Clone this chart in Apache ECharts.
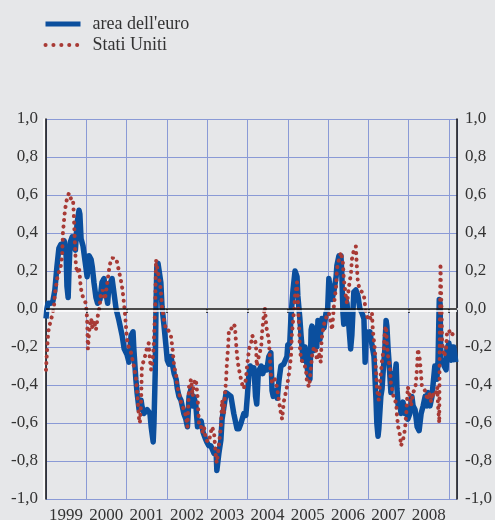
<!DOCTYPE html>
<html>
<head>
<meta charset="utf-8">
<script src="https://cdn.jsdelivr.net/npm/echarts@6/dist/echarts.min.js"></script>
<style>
  html, body { margin: 0; padding: 0; background: #e6e7e9; }
  #chart { width: 495px; height: 520px; }
</style>
</head>
<body>
<div id="chart"></div>
<script>
// [anno decimale, valore]
const areaEuro = [
  [1999.00,-0.05],[1999.02,0.00],[1999.05,0.03],[1999.12,0.03],[1999.17,0.04],[1999.22,0.10],[1999.27,0.22],[1999.32,0.32],[1999.37,0.34],[1999.41,0.30],[1999.45,0.36],[1999.50,0.28],[1999.52,0.12],[1999.55,0.06],[1999.57,0.20],[1999.60,0.35],[1999.65,0.38],[1999.69,0.37],[1999.73,0.31],[1999.77,0.45],[1999.82,0.52],[1999.84,0.50],[1999.87,0.37],[1999.92,0.33],[1999.97,0.25],
  [2000.02,0.17],[2000.07,0.28],[2000.12,0.26],[2000.15,0.22],[2000.19,0.14],[2000.24,0.06],[2000.28,0.03],[2000.34,0.05],[2000.39,0.14],[2000.44,0.16],[2000.49,0.08],[2000.53,0.03],[2000.56,0.12],[2000.64,0.16],[2000.69,0.08],[2000.74,0.00],[2000.81,-0.06],[2000.89,-0.14],[2000.94,-0.21],
  [2001.01,-0.24],[2001.06,-0.28],[2001.11,-0.14],[2001.16,-0.12],[2001.18,-0.21],[2001.23,-0.37],[2001.26,-0.44],[2001.31,-0.53],[2001.36,-0.48],[2001.38,-0.51],[2001.43,-0.55],[2001.51,-0.53],[2001.58,-0.55],[2001.61,-0.62],[2001.66,-0.70],[2001.68,-0.60],[2001.71,-0.34],[2001.73,0.01],[2001.75,0.22],[2001.78,0.24],[2001.80,0.23],[2001.85,0.14],[2001.88,0.01],[2001.93,-0.09],[2001.98,-0.20],
  [2002.01,-0.27],[2002.05,-0.29],[2002.10,-0.25],[2002.14,-0.26],[2002.18,-0.34],[2002.23,-0.37],[2002.26,-0.42],[2002.30,-0.46],[2002.35,-0.48],[2002.39,-0.49],[2002.42,-0.55],[2002.47,-0.58],[2002.51,-0.62],[2002.55,-0.46],[2002.60,-0.42],[2002.64,-0.51],[2002.67,-0.46],[2002.72,-0.51],[2002.76,-0.62],[2002.80,-0.60],[2002.85,-0.59],[2002.90,-0.65],[2002.95,-0.68],[2002.99,-0.70],
  [2003.04,-0.72],[2003.09,-0.72],[2003.17,-0.76],[2003.22,-0.74],[2003.24,-0.85],[2003.27,-0.84],[2003.29,-0.76],[2003.34,-0.69],[2003.37,-0.58],[2003.42,-0.51],[2003.47,-0.44],[2003.50,-0.43],[2003.59,-0.46],[2003.66,-0.55],[2003.74,-0.63],[2003.79,-0.63],[2003.84,-0.60],[2003.91,-0.55],[2003.96,-0.56],
  [2004.00,-0.45],[2004.04,-0.33],[2004.07,-0.30],[2004.12,-0.33],[2004.16,-0.31],[2004.20,-0.46],[2004.23,-0.50],[2004.27,-0.33],[2004.34,-0.30],[2004.38,-0.34],[2004.43,-0.31],[2004.48,-0.32],[2004.53,-0.25],[2004.58,-0.23],[2004.61,-0.43],[2004.64,-0.46],[2004.71,-0.43],[2004.74,-0.47],[2004.78,-0.38],[2004.83,-0.30],[2004.90,-0.29],[2004.98,-0.25],
  [2005.00,-0.19],[2005.05,-0.18],[2005.08,-0.04],[2005.13,0.10],[2005.18,0.20],[2005.20,0.21],[2005.23,0.17],[2005.25,0.07],[2005.30,-0.05],[2005.33,-0.14],[2005.38,-0.27],[2005.43,-0.20],[2005.45,-0.21],[2005.50,-0.34],[2005.55,-0.37],[2005.58,-0.11],[2005.60,-0.09],[2005.64,-0.22],[2005.68,-0.10],[2005.72,-0.20],[2005.75,-0.06],[2005.80,-0.16],[2005.85,-0.05],[2005.90,-0.10],[2005.95,-0.02],[2005.99,0.00],
  [2006.02,0.16],[2006.07,0.07],[2006.10,0.05],[2006.15,0.10],[2006.20,0.17],[2006.22,0.23],[2006.27,0.28],[2006.32,0.28],[2006.34,0.19],[2006.37,-0.02],[2006.39,-0.08],[2006.44,0.05],[2006.47,0.03],[2006.52,-0.10],[2006.56,-0.21],[2006.59,-0.14],[2006.64,0.09],[2006.69,0.10],[2006.74,0.07],[2006.79,0.00],[2006.84,-0.02],[2006.89,-0.05],[2006.92,-0.28],[2006.95,-0.12],[2006.99,-0.15],
  [2007.04,-0.12],[2007.09,-0.19],[2007.14,-0.25],[2007.19,-0.48],[2007.21,-0.60],[2007.24,-0.67],[2007.26,-0.63],[2007.31,-0.46],[2007.34,-0.42],[2007.36,-0.35],[2007.41,-0.21],[2007.44,-0.06],[2007.46,-0.09],[2007.49,-0.21],[2007.51,-0.27],[2007.56,-0.44],[2007.59,-0.34],[2007.64,-0.39],[2007.69,-0.29],[2007.71,-0.42],[2007.74,-0.51],[2007.79,-0.51],[2007.81,-0.55],[2007.86,-0.49],[2007.91,-0.55],[2007.96,-0.53],[2007.98,-0.58],
  [2008.03,-0.55],[2008.08,-0.46],[2008.11,-0.51],[2008.16,-0.53],[2008.21,-0.62],[2008.26,-0.64],[2008.31,-0.55],[2008.36,-0.51],[2008.41,-0.46],[2008.46,-0.51],[2008.48,-0.44],[2008.53,-0.51],[2008.58,-0.46],[2008.60,-0.41],[2008.65,-0.30],[2008.70,-0.37],[2008.73,-0.27],[2008.76,0.05],[2008.78,0.03],[2008.80,-0.28],[2008.85,-0.27],[2008.88,-0.30],[2008.93,-0.32],[2008.95,-0.21],
  [2009.00,-0.18],[2009.05,-0.27],[2009.07,-0.20],[2009.12,-0.20],[2009.17,-0.28]
];

const statiUniti = [
  [1999.00,-0.32],[1999.02,-0.24],[1999.05,-0.14],[1999.07,-0.10],[1999.12,-0.06],[1999.17,-0.02],[1999.20,0.02],[1999.22,0.08],[1999.27,0.15],[1999.30,0.19],[1999.35,0.20],[1999.40,0.28],[1999.42,0.40],[1999.47,0.52],[1999.52,0.58],[1999.57,0.61],[1999.62,0.58],[1999.67,0.58],[1999.69,0.50],[1999.72,0.33],[1999.74,0.24],[1999.77,0.19],[1999.82,0.22],[1999.86,0.12],[1999.89,0.08],[1999.94,0.05],[1999.99,0.03],
  [2000.02,-0.05],[2000.04,-0.21],[2000.07,-0.12],[2000.12,-0.05],[2000.15,-0.10],[2000.19,-0.06],[2000.24,-0.11],[2000.29,-0.03],[2000.33,0.01],[2000.36,0.08],[2000.41,0.10],[2000.46,0.05],[2000.51,0.12],[2000.56,0.20],[2000.61,0.26],[2000.66,0.27],[2000.71,0.25],[2000.76,0.25],[2000.81,0.20],[2000.86,0.15],[2000.90,0.10],[2000.94,0.02],[2000.97,-0.05],
  [2001.01,-0.16],[2001.06,-0.21],[2001.11,-0.23],[2001.18,-0.30],[2001.23,-0.36],[2001.27,-0.46],[2001.31,-0.58],[2001.33,-0.60],[2001.36,-0.49],[2001.38,-0.30],[2001.43,-0.27],[2001.48,-0.23],[2001.51,-0.20],[2001.55,-0.18],[2001.58,-0.27],[2001.61,-0.32],[2001.64,-0.28],[2001.67,-0.21],[2001.71,0.01],[2001.73,0.26],[2001.75,0.23],[2001.80,0.17],[2001.85,0.10],[2001.88,0.01],[2001.93,-0.06],[2001.98,-0.11],
  [2002.03,-0.11],[2002.10,-0.14],[2002.14,-0.21],[2002.18,-0.30],[2002.23,-0.35],[2002.26,-0.41],[2002.30,-0.44],[2002.35,-0.49],[2002.39,-0.48],[2002.42,-0.53],[2002.47,-0.56],[2002.51,-0.62],[2002.55,-0.41],[2002.60,-0.37],[2002.64,-0.46],[2002.67,-0.39],[2002.72,-0.37],[2002.76,-0.46],[2002.80,-0.62],[2002.85,-0.62],[2002.88,-0.65],[2002.92,-0.62],[2002.97,-0.69],
  [2003.04,-0.70],[2003.12,-0.62],[2003.17,-0.65],[2003.22,-0.79],[2003.24,-0.81],[2003.29,-0.72],[2003.34,-0.62],[2003.37,-0.48],[2003.42,-0.55],[2003.44,-0.45],[2003.47,-0.37],[2003.49,-0.28],[2003.52,-0.20],[2003.54,-0.11],[2003.59,-0.11],[2003.64,-0.08],[2003.69,-0.09],[2003.71,-0.16],[2003.74,-0.24],[2003.76,-0.28],[2003.81,-0.34],[2003.86,-0.39],[2003.91,-0.42],[2003.96,-0.37],[2003.99,-0.30],
  [2004.04,-0.21],[2004.09,-0.18],[2004.12,-0.14],[2004.16,-0.13],[2004.21,-0.18],[2004.23,-0.30],[2004.28,-0.25],[2004.34,-0.20],[2004.36,-0.13],[2004.41,-0.02],[2004.43,0.01],[2004.46,-0.07],[2004.48,-0.11],[2004.53,-0.16],[2004.58,-0.34],[2004.61,-0.39],[2004.68,-0.37],[2004.73,-0.41],[2004.78,-0.48],[2004.83,-0.55],[2004.86,-0.58],[2004.90,-0.49],[2004.98,-0.41],
  [2005.03,-0.34],[2005.08,-0.25],[2005.10,-0.14],[2005.15,-0.02],[2005.18,0.07],[2005.23,0.14],[2005.25,0.05],[2005.28,-0.09],[2005.30,-0.20],[2005.33,-0.27],[2005.35,-0.28],[2005.40,-0.28],[2005.45,-0.32],[2005.48,-0.39],[2005.53,-0.41],[2005.58,-0.30],[2005.60,-0.25],[2005.65,-0.20],[2005.70,-0.21],[2005.72,-0.27],[2005.77,-0.23],[2005.82,-0.28],[2005.84,-0.16],[2005.89,-0.09],[2005.94,-0.05],[2005.97,-0.04],
  [2006.02,-0.02],[2006.07,-0.07],[2006.10,-0.11],[2006.15,0.03],[2006.20,0.12],[2006.22,0.21],[2006.27,0.26],[2006.32,0.30],[2006.34,0.31],[2006.37,0.24],[2006.39,0.16],[2006.44,0.07],[2006.47,0.03],[2006.52,0.12],[2006.57,0.19],[2006.59,0.26],[2006.64,0.31],[2006.69,0.33],[2006.71,0.24],[2006.74,0.14],[2006.79,0.10],[2006.84,0.09],[2006.89,0.07],[2006.94,-0.02],[2006.97,-0.04],
  [2007.01,-0.06],[2007.06,-0.04],[2007.09,-0.02],[2007.11,-0.11],[2007.16,-0.21],[2007.19,-0.32],[2007.21,-0.41],[2007.24,-0.46],[2007.26,-0.48],[2007.29,-0.39],[2007.31,-0.34],[2007.34,-0.27],[2007.39,-0.20],[2007.41,-0.11],[2007.44,-0.09],[2007.46,-0.18],[2007.49,-0.25],[2007.54,-0.32],[2007.56,-0.39],[2007.59,-0.42],[2007.64,-0.48],[2007.69,-0.49],[2007.71,-0.56],[2007.74,-0.62],[2007.79,-0.67],[2007.81,-0.72],[2007.86,-0.69],[2007.91,-0.63],[2007.94,-0.55],[2007.96,-0.48],[2007.98,-0.41],
  [2008.03,-0.46],[2008.06,-0.51],[2008.11,-0.44],[2008.16,-0.42],[2008.18,-0.39],[2008.21,-0.30],[2008.23,-0.21],[2008.28,-0.27],[2008.31,-0.35],[2008.33,-0.41],[2008.38,-0.42],[2008.43,-0.44],[2008.46,-0.48],[2008.51,-0.44],[2008.56,-0.49],[2008.58,-0.44],[2008.63,-0.46],[2008.68,-0.44],[2008.71,-0.41],[2008.73,-0.51],[2008.76,-0.60],[2008.77,-0.21],[2008.79,0.24],[2008.80,0.14],[2008.82,-0.04],[2008.83,-0.18],[2008.88,-0.25],[2008.93,-0.21],[2008.95,-0.13],
  [2009.00,-0.11],[2009.05,-0.14],[2009.07,-0.13],[2009.10,-0.13]
];

const years = [1999, 2000, 2001, 2002, 2003, 2004, 2005, 2006, 2007, 2008];
const xRange = [1999, 2009.2];
const yRange = [-1, 1];

const font = 'Liberation Serif';
const gridBlue = '#8a9ad6';
const euroBlue = '#0b4f9e';
const usRed = '#a83a35';
const yLabel = v => v.toFixed(1).replace('-0.0', '0.0').replace('.', ',');

const chart = echarts.init(document.getElementById('chart'));

chart.setOption({
  animation: false,
  backgroundColor: '#e6e7e9',
  legend: {
    data: [
      { name: "area dell'euro", lineStyle: { width: 5, color: euroBlue } },
      { name: 'Stati Uniti', lineStyle: { width: 4, color: usRed, type: [0.1, 7.8], cap: 'round' } }
    ],
    orient: 'vertical',
    left: 38, top: 10,
    itemWidth: 35, itemHeight: 14, itemGap: 3,
    itemStyle: { opacity: 0 },
    textStyle: { fontFamily: font, fontSize: 18, color: '#333', padding: [0, 0, 0, 7] }
  },
  grid: { left: 46, right: 38, top: 119, bottom: 21, outerBoundsMode: 'none' },
  xAxis: {
    type: 'value', min: xRange[0], max: xRange[1], interval: 1,
    axisLine: { show: true, lineStyle: { color: '#fff', width: 2 } },
    axisTick: { show: true, length: 4, lineStyle: { color: '#111', width: 1.5 } },
    splitLine: { show: true, lineStyle: { color: gridBlue, width: 1 } },
    axisLabel: {
      fontFamily: font, fontSize: 17, color: '#333', margin: 8,
      padding: [0, 0, 0, 40], showMaxLabel: false,
      formatter: v => years.includes(v) ? String(v) : ''
    }
  },
  yAxis: [{
    type: 'value', position: 'left', min: yRange[0], max: yRange[1], interval: 0.2,
    axisLine: { show: true, lineStyle: { color: '#111', width: 1.5, shadowColor: '#fff', shadowOffsetX: -2 } },
    axisTick: { show: false },
    splitLine: { show: true, lineStyle: { color: gridBlue, width: 1 } },
    axisLabel: { fontFamily: font, fontSize: 17, color: '#333', margin: 8, formatter: yLabel }
  }, {
    type: 'value', position: 'right', min: yRange[0], max: yRange[1], interval: 0.2,
    axisLine: { show: true, lineStyle: { color: '#111', width: 1.5 } },
    axisTick: { show: false },
    splitLine: { show: false },
    axisLabel: { fontFamily: font, fontSize: 17, color: '#333', margin: 8, formatter: yLabel }
  }],
  series: [{
    name: 'zero', type: 'line', data: [], z: 1, silent: true,
    markLine: {
      silent: true, symbol: ['none', 'none'], label: { show: false },
      lineStyle: { color: '#111', width: 1.5, type: 'solid', shadowColor: '#fff', shadowOffsetY: 2 },
      data: [{ yAxis: 0 }]
    }
  }, {
    name: "area dell'euro", type: 'line', data: areaEuro, z: 3,
    showSymbol: false, symbol: 'none',
    lineStyle: { color: euroBlue, width: 5.5, join: 'round' },
    itemStyle: { color: euroBlue }
  }, {
    name: 'Stati Uniti', type: 'line', data: statiUniti, z: 4,
    showSymbol: false, symbol: 'none',
    lineStyle: { color: usRed, width: 4, type: [0.1, 6.5], cap: 'round' },
    itemStyle: { color: usRed }
  }]
});
</script>
</body>
</html>
